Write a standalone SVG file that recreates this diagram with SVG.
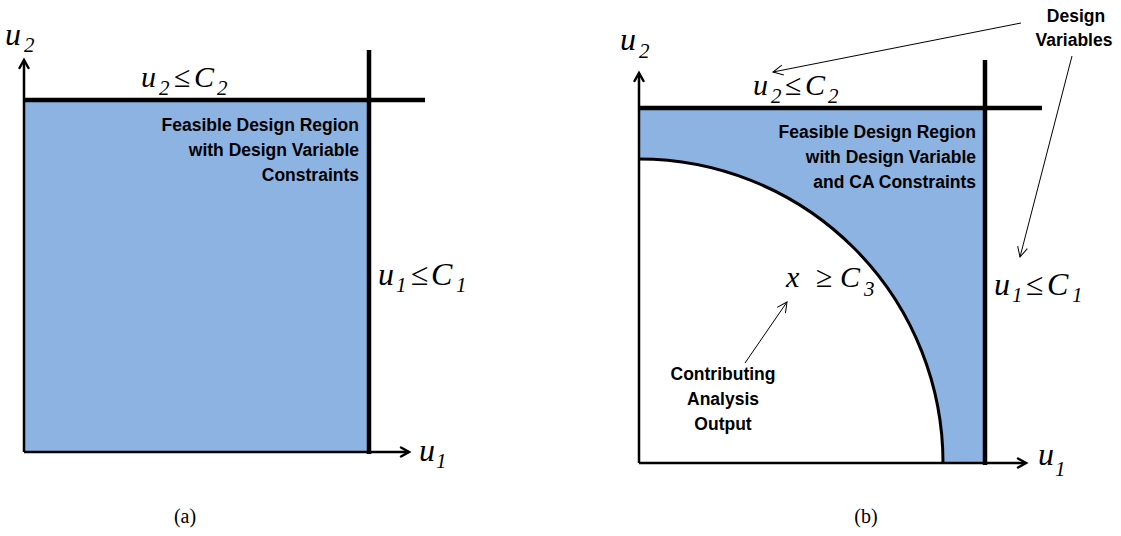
<svg xmlns="http://www.w3.org/2000/svg" width="1121" height="536" viewBox="0 0 1121 536">
<style>
.bg{fill:#ffffff}
.fill{fill:#8DB3E2;stroke:none}
.axis{stroke:#000;stroke-width:2.5;fill:none}
.head{stroke:#000;stroke-width:2.5;fill:none;stroke-linecap:round;stroke-linejoin:miter}
.con{stroke:#000;stroke-width:4.5;fill:none}
.arc{stroke:#000;stroke-width:3;fill:none}
.ann{stroke:#000;stroke-width:1;fill:none}
.m{font-family:"Liberation Serif","Times New Roman",serif;font-style:italic;fill:#000}
.up{font-style:normal}
.b{font-family:"Liberation Sans",Arial,sans-serif;font-weight:bold;font-size:17.5px;fill:#000}
.cap{font-family:"Liberation Serif","Times New Roman",serif;font-size:20px;fill:#000}
</style>
<defs>
<marker id="open" viewBox="0 0 12 12" refX="11" refY="6" markerWidth="12" markerHeight="12" markerUnits="userSpaceOnUse" orient="auto">
<path d="M1,1 L11,6 L1,11" fill="none" stroke="#000" stroke-width="1"/>
</marker>
</defs>
<rect class="bg" x="0" y="0" width="1121" height="536"/>

<g id="panel-a">
<g id="region-a">
<rect class="fill" x="24" y="100" width="345" height="352"/>
</g>
<g id="axes-a">
<line class="axis" x1="24" y1="452" x2="24" y2="60"/>
<polyline class="head" points="19.5,68 24,60 28.5,68"/>
<line class="axis" x1="24" y1="452" x2="409" y2="452"/>
<polyline class="head" points="401,447.5 409,452 401,456.5"/>
</g>
<g id="constraints-a">
<line class="con" x1="24" y1="100" x2="425" y2="100"/>
<line class="con" x1="369" y1="50" x2="369" y2="454"/>
</g>
<g id="labels-a">
<text class="m" font-size="32"><tspan x="5" y="45">u</tspan><tspan x="24" y="52" font-size="21">2</tspan></text>
<text class="m" font-size="32"><tspan x="419" y="461">u</tspan><tspan x="436" y="468" font-size="21">1</tspan></text>
<text class="m" font-size="30"><tspan x="141" y="87">u</tspan><tspan x="159" y="95" font-size="21">2</tspan><tspan class="up" x="174" y="87">≤</tspan><tspan x="194" y="87">C</tspan><tspan x="217" y="95" font-size="21">2</tspan></text>
<text class="m" font-size="32"><tspan x="378" y="285">u</tspan><tspan x="396" y="292" font-size="21">1</tspan><tspan class="up" x="411" y="285">≤</tspan><tspan x="431" y="285">C</tspan><tspan x="456" y="292" font-size="21">1</tspan></text>
<text class="b" text-anchor="end"><tspan x="359" y="131">Feasible Design Region</tspan><tspan x="359" y="156">with Design Variable</tspan><tspan x="359" y="181">Constraints</tspan></text>
<text class="cap" x="185" y="523" text-anchor="middle">(a)</text>
</g>
</g>

<g id="panel-b">
<g id="region-b">
<path class="fill" d="M639,108 H985 V463 H943 A304,304 0 0 0 639,159 Z"/>
</g>
<g id="ca-boundary">
<path class="arc" d="M639,159 A304,304 0 0 1 943,463"/>
</g>
<g id="axes-b">
<line class="axis" x1="639" y1="463" x2="639" y2="73"/>
<polyline class="head" points="634.5,81 639,73 643.5,81"/>
<line class="axis" x1="639" y1="463" x2="1026" y2="463"/>
<polyline class="head" points="1018,458.5 1026,463 1018,467.5"/>
</g>
<g id="constraints-b">
<line class="con" x1="639" y1="108" x2="1042" y2="108"/>
<line class="con" x1="985" y1="60" x2="985" y2="465"/>
</g>
<g id="labels-b">
<text class="m" font-size="32"><tspan x="620" y="50">u</tspan><tspan x="639" y="58" font-size="21">2</tspan></text>
<text class="m" font-size="32"><tspan x="1038" y="465">u</tspan><tspan x="1055" y="476" font-size="21">1</tspan></text>
<text class="m" font-size="30"><tspan x="753" y="95">u</tspan><tspan x="771" y="103" font-size="21">2</tspan><tspan class="up" x="785" y="95">≤</tspan><tspan x="805" y="95">C</tspan><tspan x="828" y="103" font-size="21">2</tspan></text>
<text class="m" font-size="32"><tspan x="994" y="295">u</tspan><tspan x="1012" y="302" font-size="21">1</tspan><tspan class="up" x="1026" y="295">≤</tspan><tspan x="1047" y="295">C</tspan><tspan x="1072" y="302" font-size="21">1</tspan></text>
<text class="m" font-size="30"><tspan x="786" y="287">x</tspan><tspan class="up" x="816" y="287">≥</tspan><tspan x="840" y="287">C</tspan><tspan x="864" y="296" font-size="21">3</tspan></text>
<text class="b" text-anchor="end"><tspan x="976" y="138">Feasible Design Region</tspan><tspan x="976" y="163">with Design Variable</tspan><tspan x="976" y="188">and CA Constraints</tspan></text>
<text class="b" font-size="16.5" text-anchor="middle"><tspan x="1076" y="22">Design</tspan><tspan x="1074" y="46">Variables</tspan></text>
<text class="b" text-anchor="middle"><tspan x="723" y="380">Contributing</tspan><tspan x="723" y="405">Analysis</tspan><tspan x="723" y="430">Output</tspan></text>
<text class="cap" x="866" y="523" text-anchor="middle">(b)</text>
</g>
</g>

<g id="connectors">
<line class="ann" x1="1021" y1="23" x2="773" y2="72" marker-end="url(#open)"/>
<line class="ann" x1="1072" y1="56" x2="1020" y2="257" marker-end="url(#open)"/>
<line class="ann" x1="745" y1="363" x2="787" y2="302" marker-end="url(#open)"/>
</g>
</svg>
